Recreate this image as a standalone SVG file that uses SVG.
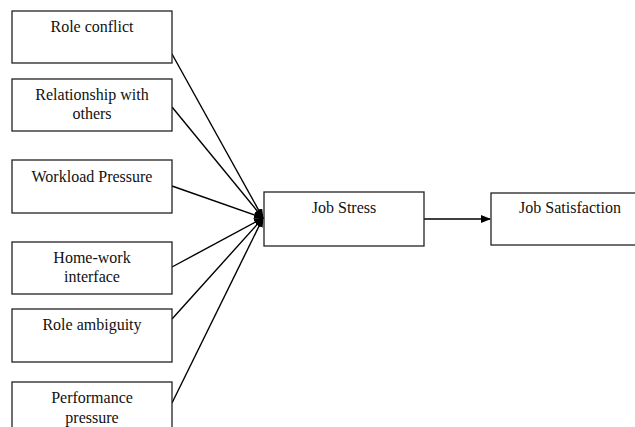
<svg xmlns="http://www.w3.org/2000/svg" width="635" height="427" viewBox="0 0 635 427">
<style>
.b{fill:#fff;stroke:#222;stroke-width:1.3}
.t{font-family:'Liberation Serif','Times New Roman','DejaVu Serif',serif;font-size:16px;fill:#111;text-anchor:middle}
.c{stroke:#000;stroke-width:1.4;fill:none}
</style>
<defs>
<marker id="ah" markerWidth="10" markerHeight="8" refX="9" refY="4" orient="auto" markerUnits="userSpaceOnUse">
<path d="M0,0 L10,4 L0,8 z" fill="#000"/>
</marker>
</defs>
<rect width="635" height="427" fill="#fff"/>
<g id="connectors">
<line class="c" x1="172" y1="54" x2="263" y2="218" marker-end="url(#ah)"/>
<line class="c" x1="172" y1="107" x2="263" y2="218" marker-end="url(#ah)"/>
<line class="c" x1="172" y1="186" x2="263" y2="218" marker-end="url(#ah)"/>
<line class="c" x1="172" y1="267" x2="263" y2="218" marker-end="url(#ah)"/>
<line class="c" x1="172" y1="319" x2="263" y2="218" marker-end="url(#ah)"/>
<line class="c" x1="172" y1="403" x2="263" y2="218" marker-end="url(#ah)"/>
<line class="c" x1="424" y1="219" x2="490" y2="219" marker-end="url(#ah)"/>
</g>
<g id="role-conflict"><rect class="b" x="12" y="11" width="160" height="52"/><text class="t" x="92" y="32">Role conflict</text></g>
<g id="relationship"><rect class="b" x="12" y="79" width="160" height="52"/><text class="t" x="92" y="100">Relationship with</text><text class="t" x="92" y="119">others</text></g>
<g id="workload"><rect class="b" x="12" y="160" width="160" height="53"/><text class="t" x="92" y="182">Workload Pressure</text></g>
<g id="home-work"><rect class="b" x="12" y="242" width="160" height="52"/><text class="t" x="92" y="263">Home-work</text><text class="t" x="92" y="282">interface</text></g>
<g id="role-ambiguity"><rect class="b" x="12" y="309" width="160" height="53"/><text class="t" x="92" y="330">Role ambiguity</text></g>
<g id="performance"><rect class="b" x="12" y="382" width="160" height="60"/><text class="t" x="92" y="403">Performance</text><text class="t" x="92" y="423">pressure</text></g>
<g id="job-stress"><rect class="b" x="264" y="192" width="160" height="54"/><text class="t" x="344" y="213">Job Stress</text></g>
<g id="job-satisfaction"><rect class="b" x="491" y="193" width="160" height="52"/><text class="t" x="570" y="213">Job Satisfaction</text></g>
</svg>
